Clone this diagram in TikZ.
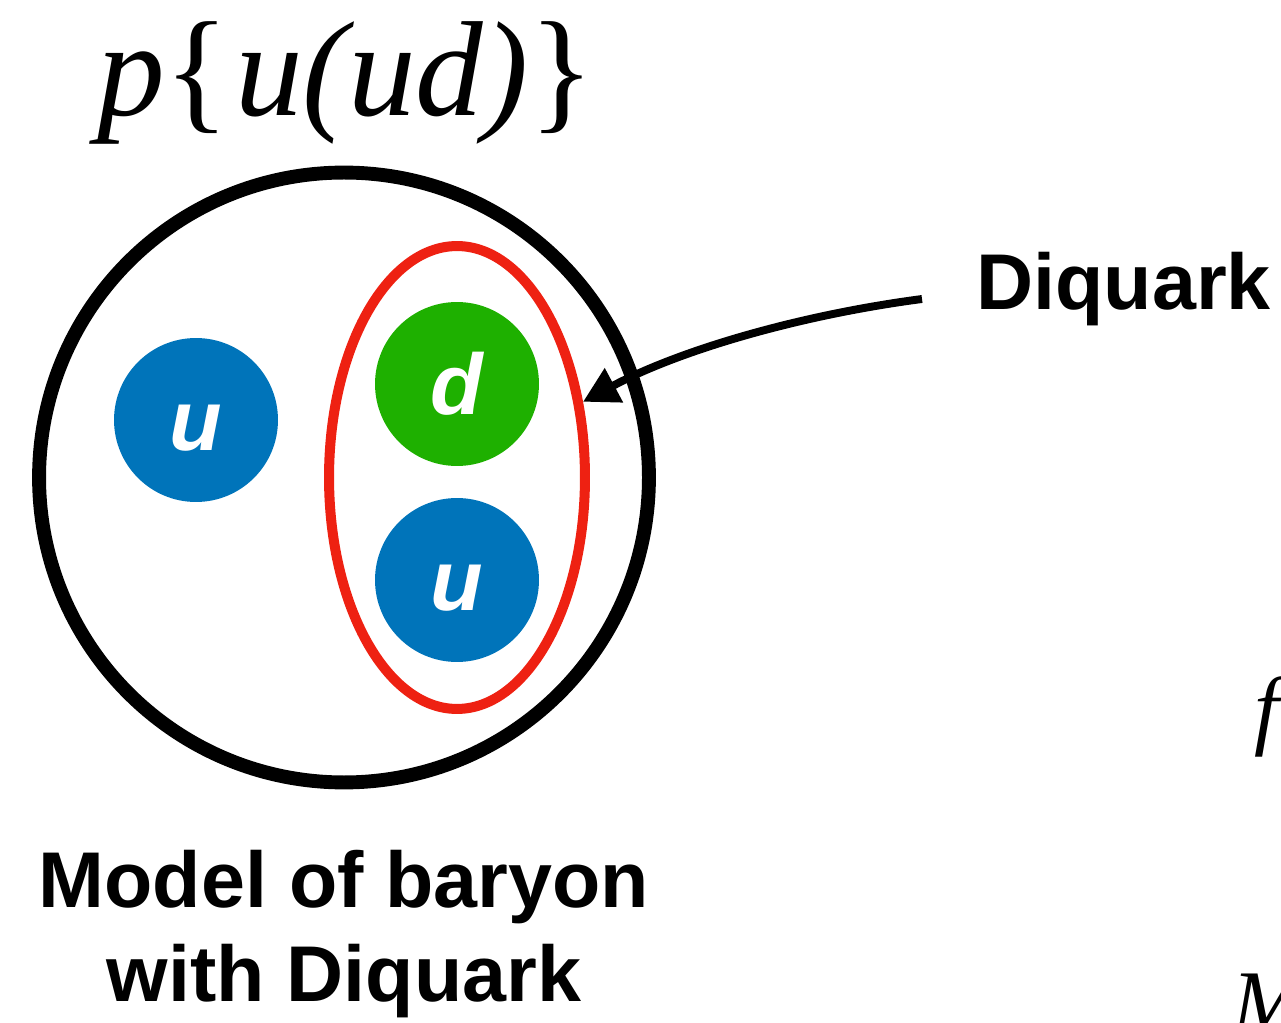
\documentclass[tikz,border=0pt]{standalone}
\usepackage{fontspec}
\setmainfont{Liberation Serif}
\setsansfont{Liberation Sans}
\usepackage{xcolor}
\usepackage{tikz}
\usetikzlibrary{arrows.meta,positioning,shapes.geometric}
\definecolor{ublue}{RGB}{0,116,186}
\definecolor{dgreen}{RGB}{30,176,0}
\definecolor{dqred}{RGB}{238,33,18}

\begin{document}
\begin{tikzpicture}[x=0.02cm, y=-0.02cm,
  quark/.style={circle, minimum size=3.28cm, inner sep=0pt, text=white, text height=35pt, text depth=0pt, font=\sffamily\bfseries\itshape\fontsize{49}{49}\selectfont},
  caption/.style={font=\sffamily\bfseries\fontsize{45}{54}\selectfont, inner sep=0pt, align=center},
  formula/.style={font=\itshape\fontsize{77}{77}\selectfont, inner sep=0pt},
  partial/.style={font=\itshape\fontsize{50}{50}\selectfont, inner sep=0pt, anchor=base west},
  arrow/.style={-{Triangle[length=20pt, width=21pt]}, line width=4.5pt, color=black}
]
\useasboundingbox (0,0) rectangle (1281,1023);
\clip (0,0) rectangle (1281,1023);

% Title
\node[formula, anchor=base] (title) at (346,116) {p\textup{\{}\kern0.04em u(ud)\kern0.01em\textup{\}}};

% Baryon and diquark
\node[circle, draw, line width=7.9pt, minimum size=12.2cm, inner sep=0pt] (baryon) at (344,477.5) {};
\node[ellipse, draw=dqred, line width=5.7pt, minimum width=5.12cm, minimum height=9.26cm, inner sep=0pt] (dq) at (457,477.5) {};

% Quarks
\node[quark, fill=ublue] (u1) at (196,420) {u};
\node[quark, fill=dgreen] (d1) at (457,384) {d};
\node[quark, fill=ublue] (u2) at (457,580) {u};

% Labels
\node[caption, below=1.2cm of baryon] (model) {Model of baryon\\with Diquark};
\node[caption, anchor=base west] (dqlabel) at (976,310) {Diquark};

\coordinate (tail) at (922,299);
\draw[arrow] (tail) .. controls (800,315) and (680,350) .. (dq.31);

% Cut-off symbols at the right edge
\node[partial] (fpart) at (1254,738) {f};
\node[partial] (mpart) at (1232,1031) {M};

\end{tikzpicture}
\end{document}
